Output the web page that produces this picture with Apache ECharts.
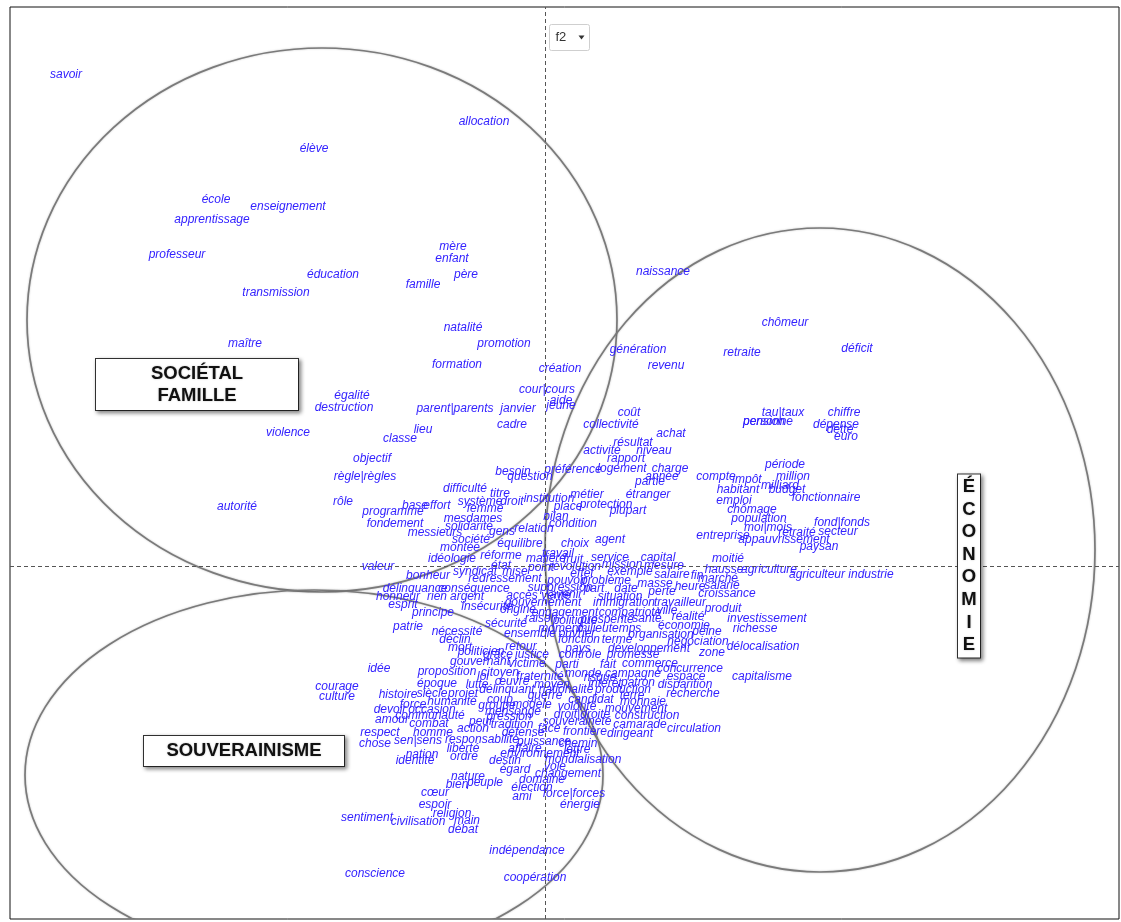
<!DOCTYPE html>
<html>
<head>
<meta charset="utf-8">
<title>AFC</title>
<script src="https://cdn.jsdelivr.net/npm/echarts/dist/echarts.min.js"></script>
<style>
  html, body { margin: 0; padding: 0; background: #fff; }
  #afc { width: 1121px; height: 922px; }
</style>
</head>
<body>
<div id="afc"></div>
<script>
// mots : [forme, f1, f2]
const motsSocietal = [
  ['savoir', -4.79, 4.93], ['allocation', -0.61, 4.46], ['élève', -2.31, 4.19],
  ['école', -3.29, 3.68], ['enseignement', -2.57, 3.61], ['apprentissage', -3.33, 3.48],
  ['professeur', -3.68, 3.13], ['mère', -0.92, 3.21], ['enfant', -0.93, 3.09],
  ['père', -0.79, 2.93], ['éducation', -2.12, 2.93], ['famille', -1.22, 2.83],
  ['transmission', -2.69, 2.75], ['natalité', -0.82, 2.40], ['promotion', -0.41, 2.24],
  ['maître', -3.00, 2.24], ['formation', -0.88, 2.03], ['création', 0.15, 1.99],
  ['égalité', -1.93, 1.72], ['destruction', -2.01, 1.60], ['cour|cours', 0.02, 1.78],
  ['aide', 0.16, 1.67], ['jeune', 0.16, 1.62], ['parent|parents', -0.90, 1.59],
  ['janvier', -0.27, 1.59], ['violence', -2.57, 1.35], ['lieu', -1.22, 1.38],
  ['cadre', -0.33, 1.43], ['classe', -1.45, 1.29], ['objectif', -1.73, 1.09],
  ['règle|règles', -1.80, 0.91], ['besoin', -0.32, 0.96], ['question', -0.15, 0.91],
  ['difficulté', -0.80, 0.79], ['titre', -0.45, 0.74], ['système', -0.65, 0.66],
  ['droit', -0.33, 0.66], ['institution', 0.04, 0.69], ['rôle', -2.02, 0.66],
  ['autorité', -3.08, 0.61], ['base', -1.30, 0.62], ['effort', -1.08, 0.62],
  ['programme', -1.52, 0.56], ['femme', -0.60, 0.59], ['mesdames', -0.72, 0.49],
  ['fondement', -1.50, 0.44], ['solidarité', -0.76, 0.41], ['relation', -0.11, 0.39],
  ['messieurs', -1.10, 0.35], ['gens', -0.43, 0.36], ['société', -0.74, 0.28],
  ['équilibre', -0.25, 0.24], ['montée', -0.85, 0.20], ['idéologie', -0.93, 0.09],
  ['réforme', -0.44, 0.12], ['valeur', -1.67, 0.01], ['état', -0.44, 0.02],
  ['syndicat', -0.70, -0.04], ['mise', -0.30, -0.04], ['bonheur', -1.17, -0.08],
  ['redressement', -0.40, -0.11]
];
const motsEconomie = [
  ['naissance', 1.18, 2.96], ['chômeur', 2.40, 2.45], ['génération', 0.93, 2.18],
  ['retraite', 1.97, 2.15], ['déficit', 3.12, 2.19], ['revenu', 1.21, 2.02],
  ['tau|taux', 2.38, 1.55], ['pension', 2.19, 1.46], ['personne', 2.23, 1.46],
  ['chiffre', 2.99, 1.55], ['dépense', 2.91, 1.43], ['dette', 2.95, 1.38],
  ['euro', 3.01, 1.31], ['coût', 0.84, 1.55], ['collectivité', 0.66, 1.43],
  ['achat', 1.26, 1.34], ['résultat', 0.88, 1.25], ['activité', 0.57, 1.17],
  ['niveau', 1.09, 1.17], ['rapport', 0.81, 1.09], ['préférence', 0.28, 0.98],
  ['logement', 0.77, 0.99], ['charge', 1.25, 0.99], ['année', 1.17, 0.91],
  ['partie', 1.05, 0.86], ['période', 2.40, 1.03], ['compte', 1.71, 0.91],
  ['impôt', 2.02, 0.88], ['million', 2.48, 0.91], ['milliard', 2.35, 0.82],
  ['budget', 2.42, 0.78], ['habitant', 1.93, 0.78], ['fonctionnaire', 2.81, 0.70],
  ['métier', 0.42, 0.73], ['étranger', 1.03, 0.73], ['emploi', 1.89, 0.67],
  ['place', 0.23, 0.61], ['protection', 0.61, 0.63], ['plupart', 0.83, 0.57],
  ['chômage', 2.07, 0.58], ['bilan', 0.11, 0.51], ['population', 2.14, 0.49],
  ['fond|fonds', 2.97, 0.45], ['condition', 0.28, 0.44], ['moi|mois', 2.23, 0.40],
  ['retraité', 2.52, 0.35], ['secteur', 2.93, 0.36], ['entreprise', 1.78, 0.32],
  ['appauvrissement', 2.39, 0.28], ['paysan', 2.74, 0.21], ['choix', 0.30, 0.24],
  ['agent', 0.65, 0.28], ['moitié', 1.83, 0.09], ['travail', 0.13, 0.14],
  ['service', 0.65, 0.10], ['capital', 1.13, 0.10], ['hausse', 1.79, -0.02],
  ['agriculture', 2.24, -0.02], ['agriculteur', 2.72, -0.07], ['industrie', 3.26, -0.07],
  ['mission', 0.77, 0.03], ['mesure', 1.19, 0.02], ['effet', 0.37, -0.06],
  ['exemple', 0.85, -0.04], ['salaire', 1.27, -0.07], ['marché', 1.73, -0.11],
  ['fin', 1.52, -0.08], ['salarié', 1.77, -0.18], ['heure', 1.45, -0.19],
  ['masse', 1.10, -0.16], ['perte', 1.17, -0.24], ['croissance', 1.82, -0.26],
  ['travailleur', 1.35, -0.35], ['produit', 1.78, -0.41], ['investissement', 2.22, -0.51],
  ['réalité', 1.43, -0.49], ['ville', 1.22, -0.43], ['économie', 1.39, -0.58],
  ['richesse', 2.10, -0.61], ['peine', 1.62, -0.64], ['organisation', 1.16, -0.67],
  ['négociation', 1.53, -0.74], ['délocalisation', 2.18, -0.79], ['développement', 1.04, -0.81],
  ['zone', 1.67, -0.85], ['commerce', 1.05, -0.96], ['concurrence', 1.45, -1.01],
  ['espace', 1.41, -1.09], ['capitalisme', 2.17, -1.09], ['disparition', 1.40, -1.17],
  ['recherche', 1.48, -1.26], ['circulation', 1.49, -1.61]
];
const motsCentre = [
  ['matière', 0.01, 0.09], ['fruit', 0.28, 0.08], ['point', -0.04, 0.00],
  ['révolution', 0.30, 0.01], ['pouvoir', 0.22, -0.13], ['problème', 0.61, -0.13],
  ['suppression', 0.15, -0.20], ['part', 0.49, -0.21], ['date', 0.81, -0.21],
  ['délinquance', -1.30, -0.21], ['conséquence', -0.71, -0.21], ['honneur', -1.47, -0.29],
  ['rien', -1.08, -0.29], ['argent', -0.78, -0.29], ['accès', -0.23, -0.28],
  ['vérité', 0.11, -0.28], ['avenir', 0.21, -0.27], ['situation', 0.75, -0.29],
  ['esprit', -1.42, -0.37], ['gouvernement', -0.02, -0.35], ['immigration', 0.79, -0.35],
  ['insécurité', -0.58, -0.39], ['origine', -0.27, -0.42], ['principe', -1.12, -0.45],
  ['engagement', 0.20, -0.45], ['compatriote', 0.85, -0.45], ['santé', 1.02, -0.51],
  ['raison', -0.04, -0.51], ['politique', 0.30, -0.53], ['prospérité', 0.62, -0.52],
  ['sécurité', -0.39, -0.56], ['patrie', -1.37, -0.59], ['moment', 0.15, -0.61],
  ['milieu', 0.48, -0.61], ['temps', 0.80, -0.61], ['nécessité', -0.88, -0.64],
  ['ensemble', -0.15, -0.66], ['ouvrier', 0.32, -0.66], ['déclin', -0.90, -0.72],
  ['fonction', 0.34, -0.72], ['terme', 0.72, -0.72], ['mort', -0.85, -0.80],
  ['retour', -0.24, -0.79], ['pays', 0.33, -0.81], ['politicien', -0.64, -0.84],
  ['grâce', -0.47, -0.87], ['justice', -0.13, -0.87], ['contrôle', 0.35, -0.87],
  ['promesse', 0.88, -0.87], ['gouvernant', -0.65, -0.94], ['victime', -0.18, -0.96],
  ['parti', 0.22, -0.97], ['fait', 0.63, -0.97]
];
const motsSouverainisme = [
  ['idée', -1.66, -1.01], ['proposition', -0.98, -1.04], ['citoyen', -0.45, -1.05],
  ['fraternité', -0.05, -1.09], ['monde', 0.38, -1.06], ['risque', 0.55, -1.10],
  ['campagne', 0.88, -1.06], ['loi', -0.62, -1.09], ['œuvre', -0.33, -1.14],
  ['époque', -1.08, -1.16], ['lutte', -0.68, -1.17], ['moyen', 0.07, -1.17],
  ['intérêt', 0.60, -1.16], ['patron', 0.93, -1.15], ['courage', -2.08, -1.19],
  ['délinquant', -0.38, -1.22], ['nationalité', 0.21, -1.22], ['production', 0.78, -1.22],
  ['culture', -2.08, -1.29], ['histoire', -1.47, -1.27], ['siècle', -1.13, -1.26],
  ['projet', -0.82, -1.26], ['guerre', 0.00, -1.28], ['candidat', 0.46, -1.32],
  ['terre', 0.87, -1.28], ['force', -1.32, -1.37], ['humanité', -0.93, -1.34],
  ['coup', -0.45, -1.32], ['monnaie', 0.98, -1.34], ['groupe', -0.48, -1.38],
  ['modèle', -0.13, -1.37], ['volonté', 0.32, -1.39], ['mouvement', 0.91, -1.41],
  ['devoir', -1.55, -1.42], ['occasion', -1.13, -1.42], ['mensonge', -0.32, -1.44],
  ['droit|droite', 0.37, -1.47], ['construction', 1.02, -1.48], ['communauté', -1.15, -1.48],
  ['pression', -0.36, -1.49], ['amour', -1.53, -1.52], ['peur', -0.64, -1.54],
  ['souveraineté', 0.32, -1.54], ['combat', -1.16, -1.56], ['tradition', -0.33, -1.57],
  ['camarade', 0.95, -1.57], ['action', -0.72, -1.61], ['face', 0.04, -1.61],
  ['frontière', 0.40, -1.64], ['respect', -1.65, -1.65], ['homme', -1.12, -1.65],
  ['défense', -0.22, -1.65], ['dirigeant', 0.85, -1.66], ['responsabilité', -0.63, -1.72],
  ['sen|sens', -1.27, -1.73], ['puissance', -0.01, -1.74], ['chose', -1.70, -1.76],
  ['chemin', 0.33, -1.76], ['liberté', -0.82, -1.81], ['affaire', -0.20, -1.81],
  ['lettre', 0.32, -1.82], ['environnement', -0.05, -1.86], ['nation', -1.23, -1.87],
  ['ordre', -0.81, -1.89], ['mondialisation', 0.38, -1.92], ['identité', -1.30, -1.93],
  ['destin', -0.40, -1.93], ['voie', 0.10, -1.99], ['égard', -0.30, -2.02],
  ['changement', 0.23, -2.06], ['nature', -0.77, -2.09], ['domaine', -0.03, -2.12],
  ['peuple', -0.60, -2.15], ['bien', -0.88, -2.17], ['élection', -0.13, -2.20],
  ['cœur', -1.10, -2.25], ['force|forces', 0.29, -2.26], ['ami', -0.23, -2.29],
  ['espoir', -1.10, -2.37], ['énergie', 0.35, -2.37], ['religion', -0.93, -2.46],
  ['sentiment', -1.78, -2.50], ['civilisation', -1.27, -2.54], ['main', -0.78, -2.53],
  ['débat', -0.82, -2.62], ['indépendance', -0.18, -2.83], ['conscience', -1.70, -3.06],
  ['coopération', -0.10, -3.10]
];

// classes
const classes = ['SOCIÉTAL\nFAMILLE', 'SOUVERAINISME', 'É\nC\nO\nN\nO\nM\nI\nE'];
const classF1 = [-3.48, -3.01, 4.24];
const classF2 = [1.815, -1.85, 0.0];

// ellipses (centre + demi-axes)
const ellipseF1 = [-2.23, 2.75, -2.31];
const ellipseF2 = [2.46, 0.16, -2.09];
const ellipseRx = [2.95, 2.75, 2.89];
const ellipseRy = [2.72, 3.22, 1.85];

const chart = echarts.init(document.getElementById('afc'));

const mots = motsSocietal.concat(motsEconomie, motsCentre, motsSouverainisme);
// largeur, hauteur, interligne, marge haute
const boxSize = [[202, 48, 22, 3], [200, 28, 20, 2], [22, 183, 22.6, 0]];

const option = {
  animation: false,
  backgroundColor: '#fff',
  grid: {
    left: 10, right: 2, top: 7, bottom: 3,
    show: true, borderColor: '#111', borderWidth: 1, backgroundColor: '#fff'
  },
  xAxis: { type: 'value', min: -5.35, max: 5.74, show: false },
  yAxis: { type: 'value', min: -3.53, max: 5.59, show: false },
  graphic: [
    {
      type: 'group', left: 549, top: 24, z: 100,
      children: [
        { type: 'rect', shape: { x: 0, y: 0, width: 40, height: 26, r: 2 },
          style: { fill: '#fff', stroke: '#cfcfcf', lineWidth: 1 } },
        { type: 'text', x: 6, y: 13,
          style: { text: 'f2', fill: '#333', font: '13px "Liberation Sans"', verticalAlign: 'middle' } },
        { type: 'polygon', shape: { points: [[29, 11], [35, 11], [32, 15]] },
          style: { fill: '#333' } }
      ]
    }
  ],
  series: [
    {
      type: 'custom',
      clip: true,
      z: 1,
      silent: true,
      data: ellipseF1.map((x, i) => [x, ellipseF2[i], ellipseRx[i], ellipseRy[i]]),
      renderItem (params, api) {
        const c = api.coord([api.value(0), api.value(1)])
        const s = api.size([api.value(2), api.value(3)])
        const rx = s[0]
        const ry = s[1]
        return {
          type: 'path',
          shape: {
            pathData: 'M ' + (c[0] - rx) + ' ' + c[1] +
              ' A ' + rx + ' ' + ry + ' 0 1 0 ' + (c[0] + rx) + ' ' + c[1] +
              ' A ' + rx + ' ' + ry + ' 0 1 0 ' + (c[0] - rx) + ' ' + c[1] + ' Z'
          },
          style: {
            fill: 'none', stroke: '#7a7a7a', lineWidth: 1.7,
            shadowBlur: 2, shadowColor: 'rgba(0,0,0,0.25)'
          }
        }
      }
    },
    {
      type: 'scatter',
      z: 2,
      symbolSize: 1,
      itemStyle: { color: 'rgba(0,0,0,0)', opacity: 1 },
      silent: true,
      data: mots.map(m => ({ name: m[0], value: [m[1], m[2]] })),
      label: {
        show: true,
        position: 'inside',
        offset: [0, 2],
        formatter: '{b}',
        fontFamily: 'Liberation Sans',
        fontStyle: 'italic',
        fontSize: 12,
        color: '#3322ff'
      },
      markLine: {
        silent: true,
        symbol: ['none', 'none'],
        label: { show: false },
        lineStyle: { type: [4, 3], color: '#555', width: 1 },
        data: [{ xAxis: 0 }, { yAxis: 0 }]
      }
    },
    {
      type: 'scatter',
      z: 5,
      symbolSize: 1,
      itemStyle: { color: 'rgba(0,0,0,0)', opacity: 1 },
      silent: true,
      data: classes.map((c, i) => ({
        name: c,
        value: [classF1[i], classF2[i]],
        label: {
          width: boxSize[i][0],
          height: boxSize[i][1],
          lineHeight: boxSize[i][2],
          padding: [boxSize[i][3], 0, 0, 0]
        }
      })),
      label: {
        show: true,
        position: 'inside',
        formatter: '{b}',
        align: 'center',
        verticalAlign: 'middle',
        fontFamily: 'Liberation Sans',
        fontWeight: 'bold',
        fontSize: 18.5,
        color: '#111',
        backgroundColor: '#fff',
        borderColor: '#333',
        borderWidth: 1,
        shadowColor: 'rgba(0,0,0,0.45)',
        shadowBlur: 4,
        shadowOffsetX: 2,
        shadowOffsetY: 2,
        textShadowColor: 'rgba(0,0,0,0.25)',
        textShadowBlur: 2
      }
    }
  ]
};

chart.setOption(option);
window.addEventListener('resize', () => {
  chart.resize()
});
</script>
</body>
</html>
